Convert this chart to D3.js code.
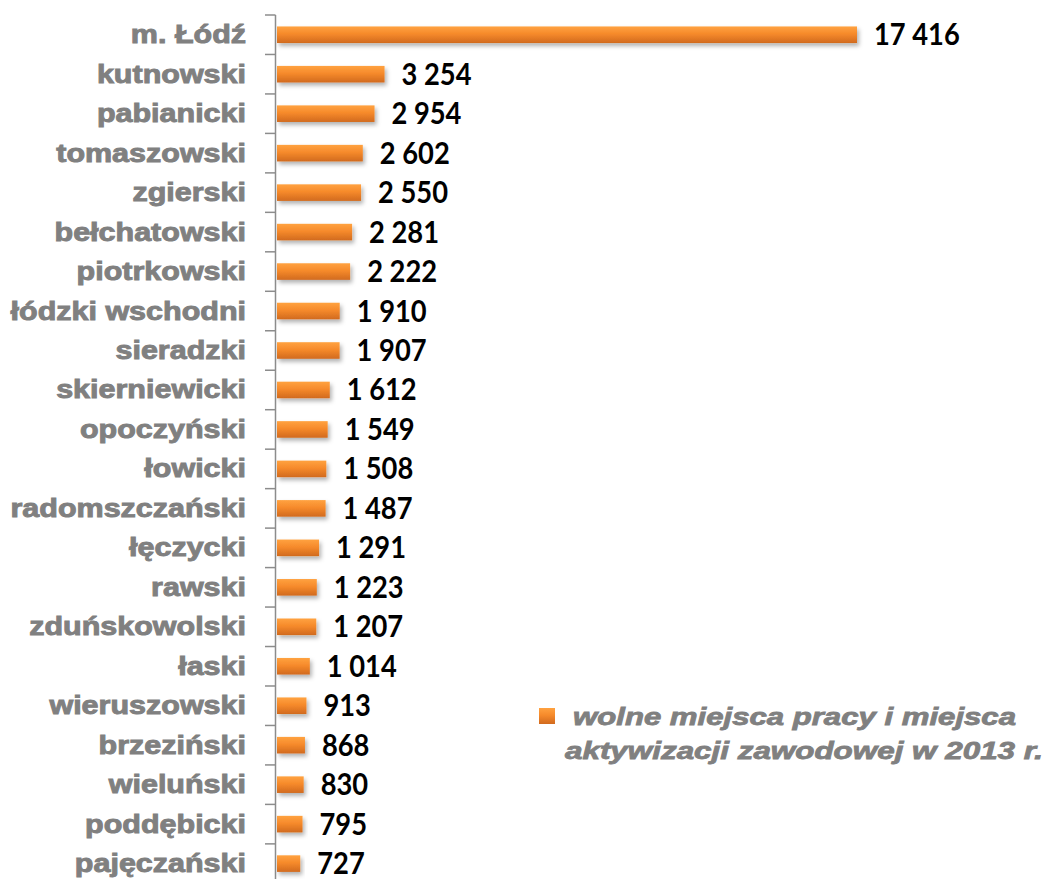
<!DOCTYPE html>
<html>
<head>
<meta charset="utf-8">
<script src="https://cdn.jsdelivr.net/npm/d3@7"></script>
<style>
  body { margin: 0; background: #fff; }
  .cat { font-family: "Liberation Sans", Arial, sans-serif; font-weight: bold; fill: #808080; stroke: #808080; stroke-width: 0.9px; }
  .val { font-family: Lato, "Open Sans", sans-serif; font-weight: bold; fill: #000; }
  .leg { font-family: "Liberation Sans", Arial, sans-serif; font-weight: bold; font-style: italic; fill: #808080; stroke: #808080; stroke-width: 0.8px; }
</style>
</head>
<body>
<div id="container"></div>
<script>
// data
var categories = ["m. Łódź", "kutnowski", "pabianicki", "tomaszowski", "zgierski", "bełchatowski",
  "piotrkowski", "łódzki wschodni", "sieradzki", "skierniewicki", "opoczyński", "łowicki",
  "radomszczański", "łęczycki", "rawski", "zduńskowolski", "łaski", "wieruszowski",
  "brzeziński", "wieluński", "poddębicki", "pajęczański"];
var values = [17416, 3254, 2954, 2602, 2550, 2281, 2222, 1910, 1907, 1612, 1549, 1508,
  1487, 1291, 1223, 1207, 1014, 913, 868, 830, 795, 727];
var legendLines = ["wolne miejsca pracy i miejsca", "aktywizacji zawodowej w 2013 r."];

var width = 1047, height = 879;

var svg = d3.select("div#container")
  .append("svg")
  .attr("width", width)
  .attr("height", height);

var pl = d3.formatLocale({decimal: ",", thousands: " ", grouping: [3], currency: ["", " zł"]});
var fmt = pl.format(",d");

var data = categories.map(function(c, i) { return {name: c, value: values[i]}; });

var x = d3.scaleLinear()
  .domain([0, d3.max(values)])
  .range([276, 857]);

var y = d3.scaleBand()
  .domain(categories)
  .range([15, 15 + 22 * 39.47])
  .paddingInner(0.58)
  .paddingOuter(0.29);

var defs = svg.append("defs");
var grad = defs.append("linearGradient")
  .attr("id", "barGrad")
  .attr("x1", 0).attr("y1", 0).attr("x2", 0).attr("y2", 1);
grad.append("stop").attr("offset", "0%").attr("stop-color", "#ffa240");
grad.append("stop").attr("offset", "45%").attr("stop-color", "#f68a2b");
grad.append("stop").attr("offset", "100%").attr("stop-color", "#d16a1e");

var shadow = defs.append("filter")
  .attr("id", "shadow")
  .attr("x", "-10%").attr("y", "-50%")
  .attr("width", "130%").attr("height", "250%");
shadow.append("feDropShadow")
  .attr("dx", 2).attr("dy", 3)
  .attr("stdDeviation", 2)
  .attr("flood-color", "#000")
  .attr("flood-opacity", 0.3);

// axis line + ticks at band boundaries
var step = y.step();
var y0 = y.range()[0];
svg.append("line")
  .attr("x1", 275.5).attr("x2", 275.5)
  .attr("y1", y0).attr("y2", height)
  .attr("stroke", "#8c8c8c")
  .attr("stroke-width", 1.5);

svg.selectAll(".tick")
  .data(d3.range(categories.length + 1))
  .enter().append("line")
  .attr("class", "tick")
  .attr("x1", 265).attr("x2", 275.5)
  .attr("y1", function(i) { return y0 + i * step; })
  .attr("y2", function(i) { return y0 + i * step; })
  .attr("stroke", "#8c8c8c")
  .attr("stroke-width", 1.5);

// bars
svg.selectAll(".bar")
  .data(data)
  .enter().append("rect")
  .attr("class", "bar")
  .attr("x", x(0) + 1)
  .attr("y", function(d) { return y(d.name); })
  .attr("width", function(d) { return x(d.value) - x(0) - 1; })
  .attr("height", y.bandwidth())
  .attr("fill", "url(#barGrad)")
  .attr("filter", "url(#shadow)");

// category labels
svg.selectAll(".cat")
  .data(data)
  .enter().append("text")
  .attr("class", "cat")
  .attr("transform", function(d) {
    return "translate(246," + (y(d.name) + y.bandwidth() / 2 + 8.5) + ") scale(1.22,1)";
  })
  .attr("text-anchor", "end")
  .style("font-size", "25px")
  .text(function(d) { return d.name; });

// value labels
svg.selectAll(".val")
  .data(data)
  .enter().append("text")
  .attr("class", "val")
  .attr("transform", function(d) {
    return "translate(" + (x(d.value) + 17) + "," + (y(d.name) + y.bandwidth() / 2 + 10.5) + ") scale(0.88,1)";
  })
  .style("font-size", "31px")
  .text(function(d) { return fmt(d.value); });

// legend
var legend = svg.append("g").attr("class", "legend");
legend.append("rect")
  .attr("x", 539).attr("y", 708)
  .attr("width", 16).attr("height", 16)
  .attr("fill", "url(#barGrad)");

legend.selectAll(".leg")
  .data(legendLines)
  .enter().append("text")
  .attr("class", "leg")
  .attr("x", function(d, i) { return i === 0 ? 573 : 565; })
  .attr("y", function(d, i) { return 725 + i * 34; })
  .attr("textLength", function(d, i) { return i === 0 ? 443 : 478; })
  .attr("lengthAdjust", "spacingAndGlyphs")
  .style("font-size", "23px")
  .text(function(d) { return d; });
</script>
</body>
</html>
